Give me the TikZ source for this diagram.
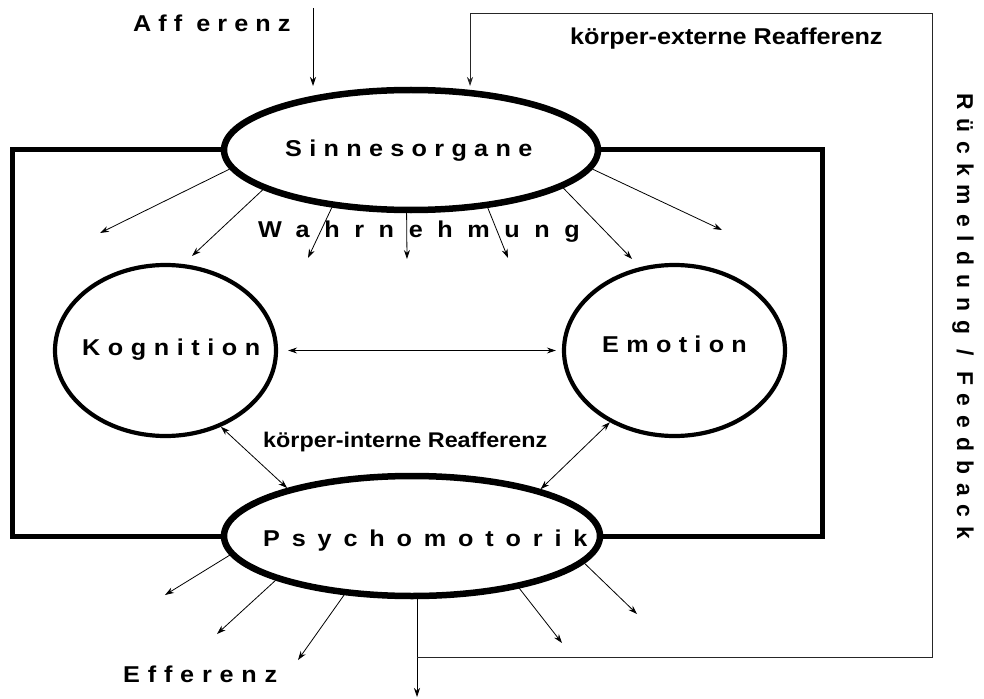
\documentclass[tikz,border=0pt]{standalone}
\usepackage{fontspec}
\setmainfont{Liberation Sans}
\usetikzlibrary{shapes.geometric,arrows.meta}
\newcommand\spc[2]{{\addfontfeatures{LetterSpace=#1}#2}}
\newcommand\wide[1]{\scalebox{1.1}[1]{#1}}
\begin{document}
\begin{tikzpicture}[x=1bp,y=-1bp,
  thick ell/.style={draw, ellipse, line width=6.5bp, inner sep=0pt},
  mid ell/.style={draw, ellipse, line width=4.2bp, inner sep=0pt},
  frame/.style={line width=5bp, line join=miter},
  ray/.style={line width=0.8bp, -{Stealth[length=9bp,width=6bp]}},
  dray/.style={line width=0.8bp, {Stealth[length=9bp,width=6bp]}-{Stealth[length=9bp,width=6bp]}},
  fb/.style={line width=0.8bp, black!85},
  lbl/.style={inner sep=0pt, font=\bfseries\fontsize{23}{27}\selectfont, anchor=base west},
  slbl/.style={lbl, font=\bfseries\fontsize{21.3}{25}\selectfont},
]
\useasboundingbox (0,0) rectangle (984,699);

% main ellipses
\node[thick ell, minimum width=374bp, minimum height=120bp] (S) at (411,150) {};
\node[thick ell, minimum width=376bp, minimum height=120bp] (P) at (412,536) {};
\node[mid ell, minimum width=221bp, minimum height=171bp] (K) at (165.5,350.5) {};
\node[mid ell, minimum width=221bp, minimum height=171bp] (E) at (674.5,350.5) {};

% frame
\draw[frame] (S.west) -- (12,150) -- (12,536) -- (P.west);
\draw[frame] (S.east) -- (822,150) -- (822,536) -- (P.east);

% labels
\node[lbl] (tAff) at (133,32) {\wide{\spc{28}{Aff erenz}}};
\node[lbl] (tExt) at (570,45) {\wide{körper-externe Reafferenz}};
\node[lbl] (tS) at (285,157) {\wide{\spc{29}{Sinnesorgane}}};
\node[lbl] (tW) at (258,237) {\wide{\spc{58}{Wahrnehmung}}};
\node[lbl] (tK) at (82,355) {\wide{\spc{30}{Kognition}}};
\node[lbl] (tE) at (602,352) {\wide{\spc{29}{Emotion}}};
\node[slbl] (tInt) at (263,447) {\wide{körper-interne Reafferenz}};
\node[lbl] (tP) at (263,546) {\wide{\spc{47}{Psychomotorik}}};
\node[lbl] (tEff) at (123,682) {\wide{\spc{31}{Efferenz}}};
\node[lbl, rotate=-90] (tFb) at (957,93) {\spc{39}{Rückmeldung / Feedback}};

% perception arrows
\coordinate (s1) at (100,233);
\coordinate (s2) at (192,256);
\coordinate (s3) at (308,258);
\coordinate (s4) at (407,259);
\coordinate (s5) at (508,258);
\coordinate (s6) at (632,259);
\coordinate (s7) at (722,230);
\draw[ray] (S.186.9) -- (s1);
\draw[ray] (S.195) -- (s2);
\draw[ray] (S.216.9) -- (s3);
\draw[ray] (S.266.3) -- (s4);
\draw[ray] (S.323.5) -- (s5);
\draw[ray] (S.346.6) -- (s6);
\draw[ray] (S.354.4) -- (s7);

% efference arrows
\coordinate (p1) at (165,595);
\coordinate (p2) at (217,634);
\coordinate (p3) at (298,660);
\coordinate (p4) at (562,643);
\coordinate (p5) at (637,614);
\draw[ray] (P.186.8) -- (p1);
\draw[ray] (P.198.9) -- (p2);
\draw[ray] (P.221.2) -- (p3);
\draw[ray] (P.334.4) -- (p4);
\draw[ray] (P.351) -- (p5);

% internal connections
\draw[dray, shorten <=10bp, shorten >=6bp] (K.east) -- (E.west);
\draw[dray] (K.306.7) -- (P.159.3);
\draw[dray] (E.228.2) -- (P.20.6);

% afference
\coordinate (afTop) at (313,8);
\coordinate (afTip) at (313,86);
\draw[ray] (afTop) -- (afTip);

% feedback loop
\coordinate (dn) at (417,697);
\coordinate (fbBL) at (417,657);
\coordinate (fbBR) at (932,657);
\coordinate (fbTR) at (932,13);
\coordinate (fbTL) at (470,13);
\coordinate (fbA) at (470,86);
\draw[ray] (dn |- P.south) -- (dn);
\draw[fb, -{Stealth[length=9bp,width=6bp]}] (fbBL) -- (fbBR) -- (fbTR) -- (fbTL) -- (fbA);
\end{tikzpicture}
\end{document}
